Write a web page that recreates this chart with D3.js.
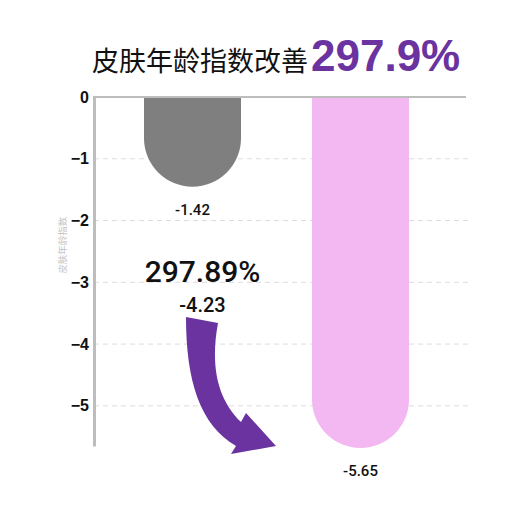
<!DOCTYPE html>
<html><head><meta charset="utf-8">
<script src="https://cdn.jsdelivr.net/npm/d3@7"></script>
<style>
html,body{margin:0;padding:0;background:#fff;}
svg{display:block;font-family:Roboto,"Liberation Sans",Arial,"Noto Sans CJK SC",sans-serif;}
</style></head>
<body><svg id="c" width="520" height="520"></svg>
<script>
const categories = ["对照组", "使用后"];
const values = [-1.42, -5.65];
const valueLabels = ["-1.42", "-5.65"];
const yTicks = [0, -1, -2, -3, -4, -5];
const titleText = "皮肤年龄指数改善";
const titleHighlight = "297.9%";
const improvementText = "297.89%";
const differenceText = "-4.23";
const yAxisTitle = "皮肤年龄指数";
const barColors = ["#7f7f7f", "#f3b7f2"];
const purple = "#6a33a0";

const svg = d3.select("#c");
const y = d3.scaleLinear().domain([-5.65, 0]).range([446, 97]);
const x = d3.scaleBand().domain(categories).range([94, 459]).paddingInner(0.4226).paddingOuter(0.2976);

// grid
svg.append("g").selectAll("line").data(yTicks.filter(d => d !== 0)).join("line")
  .attr("x1", 94).attr("x2", 470).attr("y1", d => y(d)).attr("y2", d => y(d))
  .attr("stroke", "#dcdcdc").attr("stroke-width", 1).attr("stroke-dasharray", "5,4");

// bars with rounded bottoms
const bw = x.bandwidth(), r = bw / 2;
svg.append("g").selectAll("path").data(values).join("path")
  .attr("d", (d, i) => {
    const x0 = x(categories[i]), y0 = y(0), y1 = y(d) + 2;
    const yc = Math.max(y0, y1 - r);
    return `M${x0},${y0} L${x0 + bw},${y0} L${x0 + bw},${yc} A${r},${r} 0 0 1 ${x0},${yc} Z`;
  })
  .attr("fill", (d, i) => barColors[i]);

// axes
const yAxis = d3.axisLeft(y).tickValues(yTicks).tickFormat(d3.format("d")).tickSize(0).tickPadding(5);
const ga = svg.append("g").attr("transform", "translate(94,0)").call(yAxis);
ga.select(".domain").attr("stroke", "#bdbdbd").attr("stroke-width", 3);
ga.selectAll("text").attr("font-size", 16).attr("font-weight", "bold").attr("fill", "#111")
  .attr("font-family", "'Liberation Sans',Arial,sans-serif");
svg.append("line").attr("x1", 93).attr("x2", 466).attr("y1", y(0)).attr("y2", y(0))
  .attr("stroke", "#bdbdbd").attr("stroke-width", 2);

// value labels
svg.append("g").selectAll("text").data(values).join("text")
  .attr("x", (d, i) => x(categories[i]) + bw / 2)
  .attr("y", d => y(d) + 30)
  .attr("text-anchor", "middle").attr("font-size", 15).attr("font-weight", 500).attr("fill", "#111")
  .text((d, i) => valueLabels[i]);

// y axis title
svg.append("text").attr("transform", `translate(66,${y(-2.4)}) rotate(-90)`)
  .attr("text-anchor", "middle").attr("font-size", 9.5).attr("fill", "#c4c4c4")
  .attr("font-family", "'Noto Sans CJK SC',sans-serif").text(yAxisTitle);

// title
const t = svg.append("text").attr("x", 92).attr("y", 71);
t.append("tspan").attr("font-size", 27).attr("fill", "#111")
  .attr("font-family", "'Noto Sans CJK SC',sans-serif").text(titleText);
t.append("tspan").attr("dx", 3).attr("font-size", 44).attr("font-weight", "bold").attr("fill", purple)
  .attr("font-family", "'Liberation Sans',Arial,sans-serif").text(titleHighlight);

// annotation
const ax = x(categories[0]) + bw / 2 + 10;
svg.append("text").attr("x", ax).attr("y", y(-2.99)).attr("text-anchor", "middle")
  .attr("font-size", 30).attr("font-weight", 500).attr("fill", "#111").text(improvementText);
svg.append("text").attr("x", ax).attr("y", y(-3.48)).attr("text-anchor", "middle")
  .attr("font-size", 20).attr("font-weight", 500).attr("fill", "#111").text(differenceText);

// arrow (anchored to pink bar bottom & left edge)
const px = x(categories[1]), pb = y(values[1]);
const ox = px - 312, oy = pb - 447;
const pts = `M${186+ox},${318+oy} L${218+ox},${324+oy} C${211+ox},${362+oy} ${215+ox},${398+oy} ${241+ox},${423+oy} L${246+ox},${414+oy} L${276+ox},${447+oy} L${231+ox},${455+oy} L${236+ox},${447+oy} C${200+ox},${426+oy} ${186+ox},${382+oy} ${186+ox},${318+oy} Z`;
svg.append("path").attr("d", pts).attr("fill", purple);
</script></body></html>
